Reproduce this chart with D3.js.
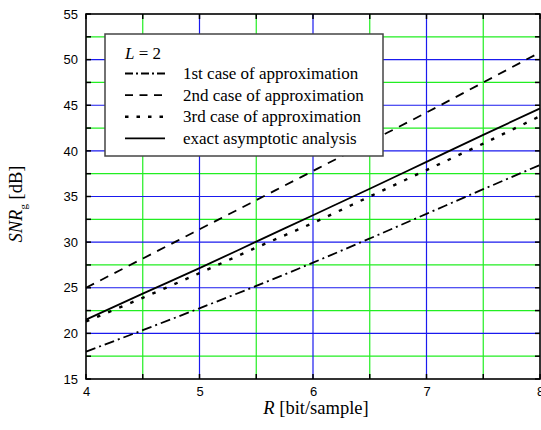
<!DOCTYPE html>
<html>
<head>
<meta charset="utf-8">
<script src="https://cdn.jsdelivr.net/npm/d3@7"></script>
<style>
  body { margin: 0; background: #fff; }
  .tick text { font-family: Arial, "Liberation Sans", sans-serif; font-size: 13px; fill: #000; }
  .serif { font-family: "Times New Roman", "Liberation Serif", serif; fill: #000; }
</style>
</head>
<body>
<svg id="chart"></svg>
<script>
// data
const rates = [4, 4.5, 5, 5.5, 6, 6.5, 7, 7.5, 8];
const case1 = [18.0, 20.35, 22.75, 25.2, 27.75, 30.4, 33.1, 35.8, 38.45];
const case2 = [25.0, 28.2, 31.4, 34.6, 37.8, 41.0, 44.2, 47.5, 50.8];
const case3 = [21.3, 23.9, 26.6, 29.4, 32.1, 35.0, 37.9, 40.8, 43.8];
const exact = [21.5, 24.35, 27.15, 30.05, 32.95, 35.85, 38.8, 41.75, 44.65];
const xTicks = [4, 5, 6, 7, 8];
const yTicks = [15, 20, 25, 30, 35, 40, 45, 50, 55];
const seriesNames = ['1st case of approximation', '2nd case of approximation', '3rd case of approximation', 'exact asymptotic analysis'];

const W = 541, H = 430;
const margin = { top: 14, right: 1, bottom: 51, left: 86 };
const width = W - margin.left - margin.right;
const height = H - margin.top - margin.bottom;

const svg = d3.select('#chart').attr('width', W).attr('height', H);
const chart = svg.append('g').attr('transform', `translate(${margin.left},${margin.top})`);

const x = d3.scaleLinear().domain([4, 8]).range([0, width]);
const y = d3.scaleLinear().domain([15, 55]).range([height, 0]);

// grid: blue on major values, green in between
const xMinor = d3.range(4.5, 8, 1);
const xMajor = [5, 6, 7];
const yMinor = d3.range(17.5, 55, 5);
const yMajor = [20, 25, 30, 35, 40, 45, 50];

chart.selectAll('.vgrid-minor').data(xMinor).join('line')
    .attr('x1', d => x(d)).attr('x2', d => x(d)).attr('y1', 0).attr('y2', height)
    .attr('stroke', '#22ee22').attr('stroke-width', 1.2);
chart.selectAll('.hgrid-minor').data(yMinor).join('line')
    .attr('x1', 0).attr('x2', width).attr('y1', d => y(d)).attr('y2', d => y(d))
    .attr('stroke', '#22ee22').attr('stroke-width', 1.2);
chart.selectAll('.vgrid-major').data(xMajor).join('line')
    .attr('x1', d => x(d)).attr('x2', d => x(d)).attr('y1', 0).attr('y2', height)
    .attr('stroke', '#1a1aee').attr('stroke-width', 1.2);
chart.selectAll('.hgrid-major').data(yMajor).join('line')
    .attr('x1', 0).attr('x2', width).attr('y1', d => y(d)).attr('y2', d => y(d))
    .attr('stroke', '#1a1aee').attr('stroke-width', 1.2);

// inward ticks on all four sides
const tl = 5;
const xAll = d3.range(4, 8.01, 0.5);
const yAll = d3.range(15, 55.01, 2.5);
const tickG = chart.append('g').attr('stroke', '#000').attr('stroke-width', 1.5);
xAll.forEach(v => {
    tickG.append('line').attr('x1', x(v)).attr('x2', x(v)).attr('y1', height).attr('y2', height - tl);
    tickG.append('line').attr('x1', x(v)).attr('x2', x(v)).attr('y1', 0).attr('y2', tl);
});
yAll.forEach(v => {
    tickG.append('line').attr('x1', 0).attr('x2', tl).attr('y1', y(v)).attr('y2', y(v));
    tickG.append('line').attr('x1', width).attr('x2', width - tl).attr('y1', y(v)).attr('y2', y(v));
});

// curves
const line = d3.line()
    .x((d, i) => x(rates[i]))
    .y(d => y(d))
    .curve(d3.curveMonotoneX);

const styles = [
    { data: case1, dash: '10,4,2,4', w: 1.8 },
    { data: case2, dash: '9,7', w: 1.8 },
    { data: case3, dash: '3.5,8.5', w: 2.4 },
    { data: exact, dash: null, w: 1.8 }
];

styles.forEach(s => {
    chart.append('path')
        .datum(s.data)
        .attr('d', line)
        .attr('fill', 'none')
        .attr('stroke', '#000')
        .attr('stroke-width', s.w)
        .attr('stroke-dasharray', s.dash);
});

// frame
chart.append('rect')
    .attr('width', width).attr('height', height)
    .attr('fill', 'none').attr('stroke', '#000').attr('stroke-width', 1.6);

// tick labels via axes
const xAxis = d3.axisBottom(x).tickValues(xTicks).tickSize(0).tickPadding(8).tickFormat(d3.format('d'));
const yAxis = d3.axisLeft(y).tickValues(yTicks).tickSize(0).tickPadding(8).tickFormat(d3.format('d'));
chart.append('g').attr('transform', `translate(0,${height})`).call(xAxis)
    .call(g => g.select('.domain').remove());
chart.append('g').call(yAxis)
    .call(g => g.select('.domain').remove());

// axis titles
const xt = svg.append('text').attr('class', 'serif')
    .attr('x', margin.left + width / 2 + 3).attr('y', 414)
    .attr('text-anchor', 'middle').style('font-size', '18.5px');
xt.append('tspan').style('font-style', 'italic').text('R');
xt.append('tspan').text(' [bit/sample]');

const yt = svg.append('text').attr('class', 'serif')
    .attr('transform', 'translate(22,204) rotate(-90)')
    .attr('text-anchor', 'middle').style('font-size', '18.5px');
yt.append('tspan').style('font-style', 'italic').text('SNR');
yt.append('tspan').attr('dy', 5).style('font-size', '11px').text('g');
yt.append('tspan').attr('dy', -5).text(' [dB]');

// legend
const legend = svg.append('g').attr('transform', 'translate(105,34)');
legend.append('rect')
    .attr('width', 278).attr('height', 122)
    .attr('fill', '#fff').attr('stroke', '#444').attr('stroke-width', 1.5);

const lt = legend.append('text').attr('class', 'serif')
    .attr('x', 20).attr('y', 25).style('font-size', '17px');
lt.append('tspan').style('font-style', 'italic').text('L');
lt.append('tspan').text(' = 2');

const legendDash = ['8,3,2,3', '8,6.5', '3.5,8', null];
seriesNames.forEach((name, i) => {
    const yy = 39.5 + i * 21.6;
    legend.append('line')
        .attr('x1', 20).attr('x2', 60).attr('y1', yy).attr('y2', yy)
        .attr('stroke', '#000').attr('stroke-width', i === 2 ? 2.4 : 1.8)
        .attr('stroke-dasharray', legendDash[i]);
    legend.append('text').attr('class', 'serif')
        .attr('x', 78).attr('y', yy + 5.5)
        .style('font-size', '17px')
        .text(name);
});
</script>
</body>
</html>
